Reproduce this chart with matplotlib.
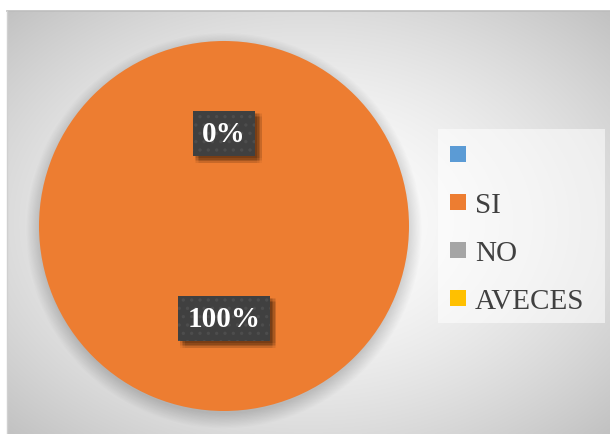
import numpy as np
import matplotlib
matplotlib.use("Agg")
import matplotlib.pyplot as plt
from matplotlib.patches import Circle, Rectangle
from matplotlib.lines import Line2D

categories = ["", "SI", "NO", "AVECES"]
values = [0, 100, 0, 0]
shown_labels = ["0%", "100%", None, None]
colors = ["#5B9BD5", "#ED7D31", "#A5A5A5", "#FFC000"]

W, H = 610, 435
fig = plt.figure(figsize=(W / 100, H / 100), dpi=100)
fig.patch.set_facecolor("white")
plt.rcParams["hatch.linewidth"] = 1.2

# background chart area with radial gradient
bx0, by0 = 7, 12
bg = fig.add_axes([bx0 / W, 0, (W - bx0) / W, (H - by0) / H])
ny, nx = 300, 420
yy, xx = np.mgrid[-0.5:0.5:ny * 1j, -0.5:0.5:nx * 1j]
r = np.sqrt(xx ** 2 + yy ** 2) / np.sqrt(0.5)
val = 1.0 - 0.24 * r ** 1.6
img = np.dstack([val, val, val])
bg.imshow(img, extent=(0, 1, 0, 1), aspect="auto", interpolation="bicubic")
bg.set_xlim(0, 1)
bg.set_ylim(0, 1)
bg.axis("off")
bg.plot([0, 1], [1, 1], color="#bdbdbd", lw=1.2, transform=bg.transAxes, clip_on=False)
bg.plot([0, 0], [0, 1], color="#d0d0d0", lw=1.0, transform=bg.transAxes, clip_on=False)

# legend background panel
fig.patches.append(Rectangle((438 / W, 1 - 324 / H), 167 / W, 194 / H,
                             transform=fig.transFigure, facecolor="white",
                             alpha=0.55, linewidth=0, zorder=1))

# pie
cx, cy, R = 224, H - 227, 185
ax = fig.add_axes([(cx - R) / W, (cy - R) / H, 2 * R / W, 2 * R / H])
ax.set_xlim(-1, 1)
ax.set_ylim(-1, 1)
ax.axis("off")
# soft shadow
for i in range(14):
    ax.add_patch(Circle((0.0, -0.025), 0.99 + 0.006 * i, color="black",
                        alpha=0.012, lw=0, zorder=0, clip_on=False))
wedges, _ = ax.pie(values, colors=colors, startangle=90, counterclock=False,
                   radius=1.0, wedgeprops=dict(linewidth=0))
for w in wedges:
    w.set_zorder(2)
ax.set_xlim(-1, 1)
ax.set_ylim(-1, 1)

label_texts = []
for w, lab in zip(wedges, shown_labels):
    if lab is None:
        continue
    ang = np.deg2rad((w.theta1 + w.theta2) / 2)
    x, y = 0.5 * np.cos(ang), 0.5 * np.sin(ang)
    t = ax.text(x, y, lab, color="white", zorder=5, ha="center", va="center",
                fontsize=21, fontweight="bold", family="Liberation Serif",
                bbox=dict(boxstyle="square,pad=0.32", facecolor="#404040",
                          edgecolor="#4d4d4d", linewidth=0, hatch=".."))
    label_texts.append(t)

# legend
handles = [Line2D([], [], marker="s", linestyle="none", markersize=11,
                  markerfacecolor=c, markeredgewidth=0) for c in colors]
leg = fig.legend(handles, categories, loc="center left",
                 bbox_to_anchor=(440 / W, 1 - 230 / H), borderaxespad=0,
                 prop=dict(family="Liberation Serif", size=21),
                 labelcolor="#404040", frameon=False,
                 handlelength=0.65, handletextpad=0.25, labelspacing=0.74,
                 borderpad=0.3)

# blurred drop shadows behind label boxes
fig.canvas.draw()
renderer = fig.canvas.get_renderer()
for t in label_texts:
    ext = t.get_bbox_patch().get_window_extent(renderer)
    for dx in (2, 3.5, 5, 6.5):
        for dy in (-2, -3.5, -5, -6.5):
            x0, y0 = ext.x0 + dx, ext.y0 + dy
            p = Rectangle((x0 / W, y0 / H), ext.width / W, ext.height / H,
                          transform=fig.transFigure, facecolor="#2a1608",
                          alpha=0.05, linewidth=0)
            p.set_zorder(4)
            ax.add_artist(p)
            p.set_transform(fig.transFigure)
            p.set_clip_on(False)

fig.savefig("out.png", dpi=100)
